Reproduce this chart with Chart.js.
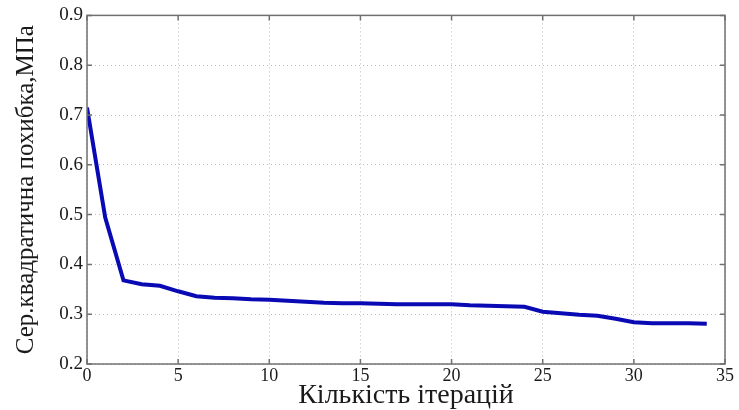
<!DOCTYPE html>
<html>
<head>
<meta charset="utf-8">
<script src="https://cdn.jsdelivr.net/npm/chart.js@4.4.1/dist/chart.umd.min.js"></script>
<style>
    html, body { margin: 0; padding: 0; background: #fff; }
    #wrap { width: 739px; height: 410px; }
</style>
</head>
<body>
<div id="wrap"><canvas id="chart" width="739" height="410"></canvas></div>
<script>
// кількість ітерацій та середньоквадратична похибка на кожній
const iteracii = [0, 1, 2, 3, 4, 5, 6, 7, 8, 9, 10, 11, 12, 13, 14, 15, 16, 17,
    18, 19, 20, 21, 22, 23, 24, 25, 26, 27, 28, 29, 30, 31, 32, 33, 34];
const pohybka = [0.715, 0.494, 0.368, 0.360, 0.357, 0.346, 0.336, 0.333, 0.332, 0.330,
    0.329, 0.327, 0.325, 0.323, 0.322, 0.322, 0.321, 0.320, 0.320, 0.320,
    0.320, 0.318, 0.317, 0.316, 0.315, 0.305, 0.302, 0.299, 0.297, 0.291,
    0.284, 0.282, 0.282, 0.282, 0.281];

const xTicks = [0, 5, 10, 15, 20, 25, 30, 35];
const yTicks = [0.2, 0.3, 0.4, 0.5, 0.6, 0.7, 0.8, 0.9];

const xTitle = 'Кількість ітерацій';
const yTitle = 'Сер.квадратична похибка,МПа';

const SERIF = '"Liberation Serif", "Times New Roman", serif';

// рамка навколо області графіка та короткі засічки всередину
const ramka = {
    id: 'ramka',
    afterDraw(chart) {
        const { ctx, chartArea: a, scales } = chart;
        ctx.save();
        ctx.strokeStyle = '#707070';
        ctx.lineWidth = 1.5;
        ctx.strokeRect(a.left, a.top, a.right - a.left, a.bottom - a.top);
        ctx.beginPath();
        xTicks.forEach(v => {
            const px = scales.x.getPixelForValue(v);
            ctx.moveTo(px, a.bottom); ctx.lineTo(px, a.bottom - 5);
            ctx.moveTo(px, a.top); ctx.lineTo(px, a.top + 5);
        });
        yTicks.forEach(v => {
            const py = scales.y.getPixelForValue(v);
            ctx.moveTo(a.left, py); ctx.lineTo(a.left + 5, py);
            ctx.moveTo(a.right, py); ctx.lineTo(a.right - 5, py);
        });
        ctx.stroke();
        ctx.restore();
    }
};

const sitka = {
    color: '#bcbcbc',
    lineWidth: 1,
    drawTicks: false
};

new Chart(document.getElementById('chart'), {
    type: 'line',
    data: {
        labels: iteracii,
        datasets: [{
            data: iteracii.map((x, i) => ({ x, y: pohybka[i] })),
            borderColor: '#0a0ab4',
            borderWidth: 4,
            pointRadius: 0,
            tension: 0,
            fill: false
        }]
    },
    options: {
        responsive: false,
        animation: false,
        devicePixelRatio: 1,
        layout: { padding: { top: 15, right: 14, left: 0, bottom: 0 } },
        plugins: {
            legend: { display: false },
            tooltip: { enabled: false }
        },
        scales: {
            x: {
                type: 'linear',
                min: 0,
                max: 35,
                afterBuildTicks: s => { s.ticks = xTicks.map(v => ({ value: v })); },
                afterFit: s => { s.height = 46; },
                grid: { ...sitka },
                border: { display: false, dash: [1, 3] },
                ticks: {
                    padding: 1,
                    color: '#1a1a1a',
                    maxRotation: 0,
                    font: { family: SERIF, size: 18 }
                },
                title: {
                    display: true,
                    text: xTitle,
                    color: '#1a1a1a',
                    padding: 0,
                    font: { family: SERIF, size: 28, lineHeight: 1 }
                }
            },
            y: {
                min: 0.2,
                max: 0.9,
                afterBuildTicks: s => { s.ticks = yTicks.map(v => ({ value: v })); },
                afterFit: s => { s.width = 87; },
                grid: { ...sitka },
                border: { display: false, dash: [1, 3] },
                ticks: {
                    padding: 4,
                    color: '#1a1a1a',
                    font: { family: SERIF, size: 19 },
                    callback: v => v.toFixed(1)
                },
                title: {
                    display: true,
                    text: yTitle,
                    color: '#1a1a1a',
                    padding: { top: 11, bottom: 0 },
                    font: { family: SERIF, size: 25, lineHeight: 1.2 }
                }
            }
        }
    },
    plugins: [ramka]
});
</script>
</body>
</html>
